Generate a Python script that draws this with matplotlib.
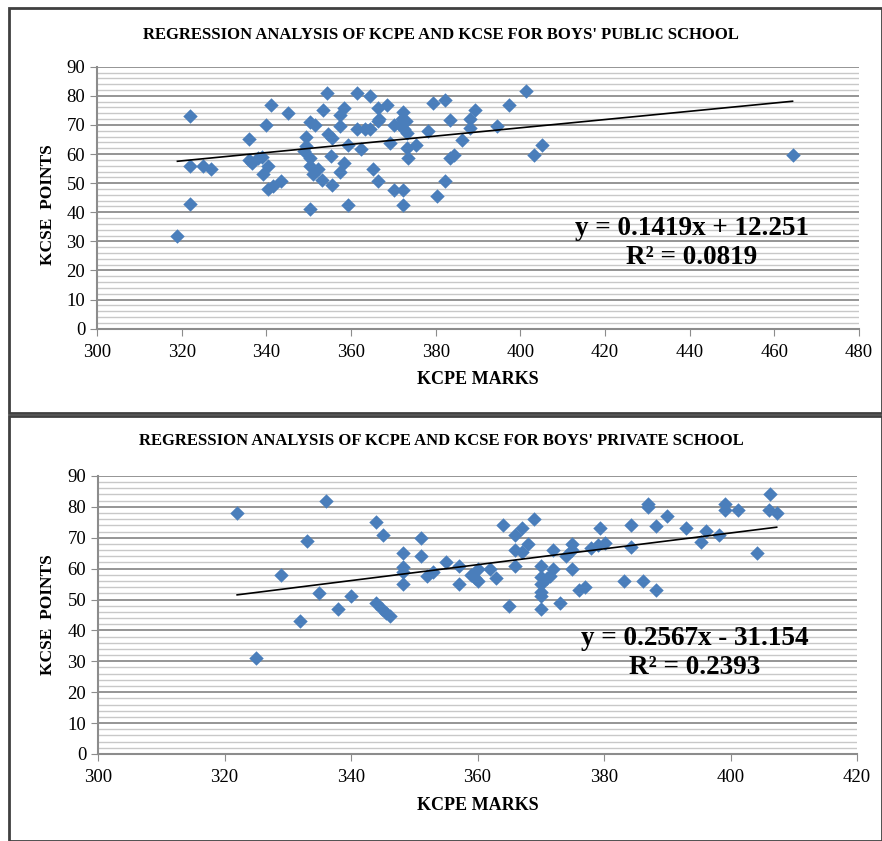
import matplotlib
matplotlib.use("Agg")
import matplotlib.pyplot as plt
from matplotlib.patches import Rectangle
import numpy as np

plt.rcParams['font.family'] = ['Liberation Serif', 'DejaVu Serif']

# boys' public school (KCPE marks, KCSE points)
pub_kcpe = [322, 319, 322, 325, 327, 322, 336, 341, 345, 340, 336, 336.5, 338, 339, 340.5,
            339.3, 340.4, 341.5, 343.4, 349.4, 349.4, 348.8, 350.4, 351.6, 350.4, 350.4,
            351.1, 352.3, 353.1, 350.4, 354.3, 353.3, 354.5, 355.5, 355.3, 355.5, 357.3,
            358.3, 357.5, 359.3, 358.4, 357.3, 359.3, 361.3, 361.3, 362.4, 363.4, 364.4,
            364.6, 366.3, 368.5, 366.3, 366.5, 369.3, 370.2, 372.3, 372, 373, 371.5, 373.2,
            372.5, 373.2, 375.4, 373.4, 365.3, 366.3, 370.2, 372.3, 372.3, 378.3, 379.4,
            382.3, 383.3, 386.2, 383.3, 384.4, 382.3, 380.3, 388.2, 388.2, 389.4, 394.4,
            397.3, 401.4, 403.2, 405.2, 464.3]
pub_kcse = [73, 32, 56, 56, 55, 43, 65, 77, 74, 70, 58, 57, 58.6, 59, 56,
            53, 48, 49, 50.6, 66, 62.6, 61, 71, 70, 58.6, 55.8,
            53, 54.8, 51, 41, 81, 75, 67, 65.5, 59.4, 49.5, 73.5,
            75.8, 69.7, 63, 57, 53.7, 42.6, 81, 68.7, 61.7, 68.7, 80,
            68.7, 75.8, 77, 71.2, 72, 63.8, 70, 74.6, 72, 71.2, 70, 67.2,
            68.5, 62, 63, 58.6, 54.8, 50.6, 47.7, 47.7, 42.6, 67.8, 77.7,
            78.5, 71.8, 64.7, 58.6, 59.8, 50.6, 45.7, 68.9, 72, 75, 69.7,
            77, 81.8, 59.8, 63, 59.5]
pub_fit = [0.1419, 12.251]
pub_r2 = 0.0819

# boys' private school
pri_kcpe = [322, 336, 333, 329, 335, 340, 338, 332, 325, 344, 345, 344, 344.9, 345.6, 346.2,
            348.2, 348.2, 348.2, 348.2, 351, 351, 352, 353, 355, 357, 357, 359, 360, 360,
            359.6, 362, 363, 364, 365, 366, 367, 366, 367, 368, 366, 369, 370, 370, 370,
            370, 370, 370, 371, 371.5, 372, 372, 373, 374, 375, 375, 375, 376, 377, 378,
            379, 379.3, 380.2, 383.2, 384.2, 384.2, 386.2, 387, 387, 388.3, 388.3, 390,
            393, 395.3, 396.2, 398.2, 399.2, 399.2, 401.2, 404.2, 406.2, 406.1, 407.3]
pri_kcse = [78, 82, 69, 58, 52, 51, 47, 43, 31, 75, 71, 49, 47, 45.7, 44.7,
            65, 60.4, 59, 55, 70, 64, 57.6, 59, 62, 61, 55, 58, 60, 56,
            57, 60, 57, 74, 48, 71, 73, 66, 65.5, 68, 61, 76, 61, 57.4, 55,
            52.5, 51, 47, 57, 57.5, 60, 66, 49, 64, 68, 60, 66, 53, 54, 66.6,
            67.6, 73, 68.2, 56, 74, 67, 56, 81, 80, 73.8, 53, 77,
            73, 68.7, 72.3, 71, 81, 79, 79, 65, 84, 79, 78]
pri_fit = [0.2567, -31.154]
pri_r2 = 0.2393

W, H = 882, 841
fig = plt.figure(figsize=(W / 100, H / 100), dpi=100)

# panel frames
fig.patches.append(Rectangle((9 / W, 1 - 413 / H), (W - 9) / W, 405 / H, transform=fig.transFigure,
                             fill=False, edgecolor='#404040', linewidth=2))
fig.patches.append(Rectangle((9 / W, 0), (W - 9) / W, 1 - 416 / H, transform=fig.transFigure,
                             fill=False, edgecolor='#404040', linewidth=2))


def panel(rect, xs, ys, fit, r2, xmax, title, title_y, xlab_y, ylab_y, eq_xy):
    ax = fig.add_axes(rect)
    ax.scatter(xs, ys, marker='D', s=54, color='#4a7ebb', zorder=3, linewidths=0)
    lx = np.array([min(xs), max(xs)])
    ax.plot(lx, fit[0] * lx + fit[1], color='black', linewidth=1.2, zorder=4)
    ax.set_xlim(300, xmax)
    ax.set_ylim(0, 90)
    ax.set_xticks(np.arange(300, xmax + 1, 20))
    ax.set_yticks(np.arange(0, 91, 10))
    ax.set_yticks(np.arange(0, 91, 2), minor=True)
    ax.grid(axis='y', which='minor', color='#c8c8c8', linewidth=1.0, zorder=0)
    ax.grid(axis='y', which='major', color='#8c8c8c', linewidth=1.3, zorder=1)
    ax.tick_params(axis='y', which='minor', length=0)
    ax.tick_params(which='major', direction='out', length=5, color='#8c8c8c', labelsize=13.5)
    ax.tick_params(axis='x', pad=6)
    for s in ['top', 'right']:
        ax.spines[s].set_visible(False)
    for s in ['left', 'bottom']:
        ax.spines[s].set_color('#8c8c8c')
        ax.spines[s].set_linewidth(1.5)
    ax.set_axisbelow(True)
    sign = '+' if fit[1] >= 0 else '-'
    ax.text(eq_xy[0], eq_xy[1], f"y = {fit[0]}x {sign} {abs(fit[1])}\nR\u00b2 = {r2}",
            transform=fig.transFigure, ha='center', va='center', fontsize=19.5,
            fontweight='bold', linespacing=1.2, zorder=5)
    fig.text(0.5, 1 - title_y / H, title, ha='center', va='center', fontsize=12, fontweight='bold')
    fig.text(rect[0] + rect[2] / 2, 1 - xlab_y / H, 'KCPE MARKS', ha='center', va='center',
             fontsize=13, fontweight='bold')
    fig.text(48 / W, 1 - ylab_y / H, 'KCSE  POINTS', ha='center', va='center', rotation=90,
             fontsize=12.5, fontweight='bold')
    return ax


panel([97 / W, 1 - 328.7 / H, 762 / W, 262 / H], pub_kcpe, pub_kcse, pub_fit, pub_r2, 480,
      "REGRESSION ANALYSIS OF KCPE AND KCSE FOR BOYS' PUBLIC SCHOOL", 35, 380, 205,
      (692 / W, 1 - 243 / H))
panel([98 / W, 1 - 754 / H, 759 / W, 278.1 / H], pri_kcpe, pri_kcse, pri_fit, pri_r2, 420,
      "REGRESSION ANALYSIS OF KCPE AND KCSE FOR BOYS' PRIVATE SCHOOL", 441, 806, 615,
      (695 / W, 1 - 653 / H))

fig.savefig('out.png', dpi=100)
